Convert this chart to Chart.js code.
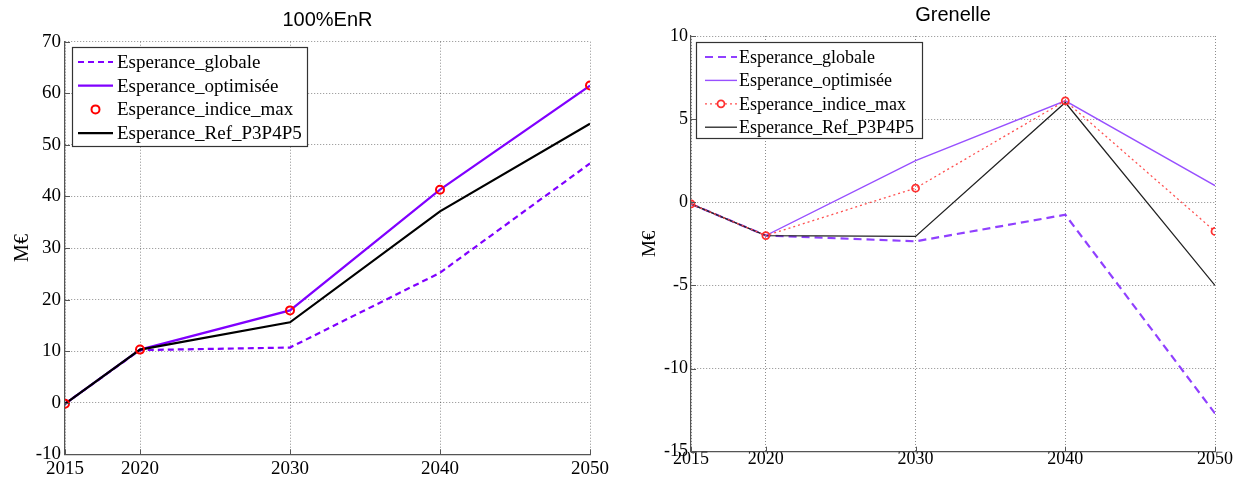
<!DOCTYPE html>
<html><head><meta charset="utf-8">
<script src="https://cdn.jsdelivr.net/npm/chart.js@4/dist/chart.umd.min.js"></script>
<style>
html,body{margin:0;padding:0;background:#fff;width:1235px;height:479px;overflow:hidden}
#c1{position:absolute;left:0;top:0}
#c2{position:absolute;left:620px;top:0}
</style></head><body>
<canvas id="c1" width="620" height="479"></canvas>
<canvas id="c2" width="615" height="479"></canvas>
<script>
// ---- data ----
const years = [2015, 2020, 2030, 2040, 2050];
const seriesNames = ['Esperance_globale', 'Esperance_optimisée', 'Esperance_indice_max', 'Esperance_Ref_P3P4P5'];
const titles = ['100%EnR', 'Grenelle'];
const yTitle = 'M€';
const enrYTicks = [-10, 0, 10, 20, 30, 40, 50, 60, 70];
const enrGlobale   = [-0.2, 10.2, 10.7, 25.2, 46.4];
const enrOptimisee = [-0.2, 10.3, 17.9, 41.3, 61.5];
const enrIndiceMax = [-0.2, 10.3, 17.9, 41.3, 61.5];
const enrRef       = [-0.2, 10.3, 15.6, 37.1, 54.1];
const grenYTicks = [-15, -10, -5, 0, 5, 10];
const grenGlobale   = [-0.1, -2.0, -2.35, -0.75, -12.7];
const grenOptimisee = [-0.1, -2.0, 2.5, 6.1, 1.0];
const grenIndiceMax = [-0.1, -2.0, 0.85, 6.1, -1.75];
const grenRef       = [-0.1, -2.0, -2.05, 6.0, -5.0];

const pts = arr => years.map((x, i) => ({x: x, y: arr[i]}));

// ---- plugins ----
const inwardTicks = {
  id: 'inwardTicks',
  afterDatasetsDraw(chart) {
    const ctx = chart.ctx, a = chart.chartArea;
    const xs = chart.scales.x, ys = chart.scales.y;
    ctx.save();
    ctx.strokeStyle = '#555'; ctx.lineWidth = 1;
    ctx.beginPath();
    ys.ticks.forEach(t => { const y = Math.round(ys.getPixelForValue(t.value)) + 0.5; ctx.moveTo(a.left, y); ctx.lineTo(a.left + 5, y); });
    xs.ticks.forEach(t => { const x = Math.round(xs.getPixelForValue(t.value)) + 0.5; ctx.moveTo(x, a.bottom); ctx.lineTo(x, a.bottom - 5); });
    ctx.stroke();
    ctx.restore();
  }
};
const matLegend = {
  id: 'matLegend',
  afterDraw(chart) {
    const L = chart.options.plugins.matLegend;
    if (!L) return;
    const ctx = chart.ctx;
    ctx.save();
    ctx.fillStyle = '#fff';
    ctx.fillRect(L.x, L.y, L.w, L.h);
    ctx.strokeStyle = '#333'; ctx.lineWidth = 1.2;
    ctx.strokeRect(L.x + 0.5, L.y + 0.5, L.w, L.h);
    ctx.font = L.font; ctx.textBaseline = 'middle'; ctx.textAlign = 'left';
    chart.data.datasets.forEach((ds, i) => {
      const y = L.y0 + i * L.dy;
      if (ds.showLine !== false) {
        ctx.save();
        ctx.strokeStyle = ds.borderColor; ctx.lineWidth = ds.borderWidth;
        ctx.setLineDash(ds.borderDash || []);
        ctx.beginPath(); ctx.moveTo(L.sx1, y); ctx.lineTo(L.sx2, y); ctx.stroke();
        ctx.restore();
      }
      if (ds.pointRadius > 0) {
        ctx.save();
        ctx.strokeStyle = ds.pointBorderColor; ctx.lineWidth = ds.pointBorderWidth;
        ctx.fillStyle = '#fff';
        ctx.beginPath(); ctx.arc((L.sx1 + L.sx2) / 2, y, ds.pointRadius, 0, Math.PI * 2); ctx.fill(); ctx.stroke();
        ctx.restore();
      }
      ctx.fillStyle = '#000';
      ctx.fillText(ds.label, L.tx, y + 1);
    });
    ctx.restore();
  }
};

function makeChart(id, g) {
  return new Chart(document.getElementById(id), {
    type: 'line',
    data: { datasets: g.datasets },
    plugins: [inwardTicks, matLegend],
    options: {
      responsive: false, animation: false,
      layout: { padding: { left: 0, right: g.padRight, top: 0, bottom: 0 } },
      elements: { line: { tension: 0 } },
      plugins: {
        legend: { display: false }, tooltip: { enabled: false },
        title: { display: true, text: g.title, color: '#000', fullSize: false,
          font: { family: 'Liberation Sans', size: 20, weight: 'normal' },
          padding: { top: g.titleTop, bottom: g.titleBottom } },
        matLegend: g.legend
      },
      scales: {
        x: {
          type: 'linear', min: years[0], max: years[years.length - 1],
          afterBuildTicks: s => { s.ticks = years.map(v => ({value: v})); },
          afterFit: s => { s.height = g.xHeight; },
          ticks: { color: '#000', padding: g.xPad, maxRotation: 0, autoSkip: false,
            font: { family: 'Liberation Serif', size: g.tickSize }, callback: v => String(v) },
          grid: { color: 'rgba(0,0,0,0.45)', lineWidth: 1, drawTicks: false },
          border: { display: true, color: '#555', width: 1.2, dash: [1, 2] }
        },
        y: {
          type: 'linear', min: g.yTicks[0], max: g.yTicks[g.yTicks.length - 1],
          afterBuildTicks: s => { s.ticks = g.yTicks.map(v => ({value: v})); },
          afterFit: s => { s.width = g.yWidth; },
          ticks: { color: '#000', padding: g.yPad,
            font: { family: 'Liberation Serif', size: g.tickSize }, callback: v => String(v) },
          grid: { color: 'rgba(0,0,0,0.45)', lineWidth: 1, drawTicks: false },
          border: { display: true, color: '#555', width: 1.2, dash: [1, 2] },
          title: { display: true, text: yTitle, color: '#000',
            font: { family: 'Liberation Serif', size: g.tickSize + 1 },
            padding: { top: g.yTitlePad, bottom: 0 } }
        }
      }
    }
  });
}

makeChart('c1', {
  title: titles[0], titleTop: 8, titleBottom: 9.7, padRight: 30,
  yTicks: enrYTicks, yWidth: 65, yPad: 4, xHeight: 24.7, xPad: 3, tickSize: 19, yTitlePad: 11,
  legend: { x: 72, y: 47, w: 235, h: 99, y0: 62, dy: 23.7, sx1: 78, sx2: 113, tx: 117,
    font: '19px "Liberation Serif"' },
  datasets: [
    { label: seriesNames[0], data: pts(enrGlobale), borderColor: '#8000FF', borderWidth: 2.2,
      borderDash: [6, 4], pointRadius: 0, order: 4 },
    { label: seriesNames[1], data: pts(enrOptimisee), borderColor: '#8000FF', borderWidth: 2.2,
      pointRadius: 0, order: 3 },
    { label: seriesNames[2], data: pts(enrIndiceMax), showLine: false, borderColor: '#FF0000',
      pointRadius: 4, pointBorderColor: '#FF0000', pointBorderWidth: 2,
      pointBackgroundColor: 'rgba(255,255,255,0)', order: 1 },
    { label: seriesNames[3], data: pts(enrRef), borderColor: '#000000', borderWidth: 2.2,
      pointRadius: 0, order: 2 }
  ]
});

makeChart('c2', {
  title: titles[1], titleTop: 3, titleBottom: 9, padRight: 20,
  yTicks: grenYTicks, yWidth: 71, yPad: 3, xHeight: 27.3, xPad: -3, tickSize: 18, yTitlePad: 19,
  legend: { x: 76, y: 42, w: 226, h: 96, y0: 57, dy: 23.4, sx1: 85, sx2: 117, tx: 119,
    font: '18px "Liberation Serif"' },
  datasets: [
    { label: seriesNames[0], data: pts(grenGlobale), borderColor: '#9040FF', borderWidth: 2.2,
      borderDash: [8, 5], pointRadius: 0, order: 4 },
    { label: seriesNames[1], data: pts(grenOptimisee), borderColor: '#9850FF', borderWidth: 1.4,
      pointRadius: 0, order: 3 },
    { label: seriesNames[2], data: pts(grenIndiceMax), borderColor: '#FF5050', borderWidth: 1.3,
      borderDash: [2, 3], pointRadius: 3.5, pointBorderColor: '#FF3030', pointBorderWidth: 1.8,
      pointBackgroundColor: 'rgba(255,255,255,0)', order: 1 },
    { label: seriesNames[3], data: pts(grenRef), borderColor: '#222222', borderWidth: 1.3,
      pointRadius: 0, order: 2 }
  ]
});
</script>
</body></html>
